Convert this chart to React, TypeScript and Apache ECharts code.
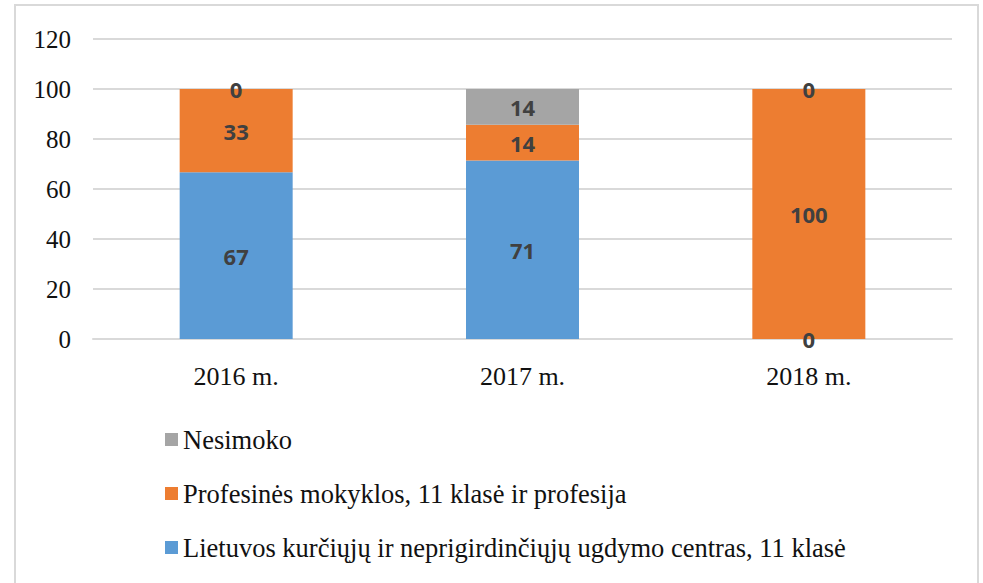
import React, { useEffect, useRef } from "react";
import * as echarts from "echarts";

const categories = ["2016 m.", "2017 m.", "2018 m."];
const seriesNames = [
  "Lietuvos kurčiųjų ir neprigirdinčiųjų ugdymo centras, 11 klasė",
  "Profesinės mokyklos, 11 klasė ir profesija",
  "Nesimoko",
];
const lietuvosValues = [66.7, 71.4, 0];
const profesinesValues = [33.3, 14.3, 100];
const nesimokoValues = [0, 14.3, 0];
const yTicks = { min: 0, max: 120, interval: 20 };

const colors = ["#5B9BD5", "#ED7D31", "#A5A5A5"];
const serif = "'Liberation Serif', 'Times New Roman', serif";

export default function App() {
  const ref = useRef<HTMLDivElement>(null);
  useEffect(() => {
    document.body.style.margin = "0";
    if (!ref.current) return;
    const chart = echarts.init(ref.current, null, { renderer: "svg" });
    const labelStyle = {
      show: true,
      position: "inside" as const,
      fontFamily: "'Open Sans', sans-serif",
      fontWeight: "bold" as const,
      fontSize: 22,
      color: "#404040",
      formatter: (p: any) => String(Math.round(p.value)),
    };
    const values = [lietuvosValues, profesinesValues, nesimokoValues];
    chart.setOption({
      animation: false,
      backgroundColor: "#ffffff",
      grid: { left: 93, right: 31, top: 39, bottom: 244 },
      graphic: [
        {
          type: "rect",
          shape: { x: 15, y: 5, width: 963, height: 620 },
          style: { fill: "none", stroke: "#d9d9d9", lineWidth: 2 },
          silent: true,
        },
      ],
      legend: {
        orient: "vertical",
        left: 160,
        top: 421,
        itemGap: 27,
        itemWidth: 13,
        itemHeight: 13,
        icon: "rect",
        data: [seriesNames[2], seriesNames[1], seriesNames[0]],
        textStyle: {
          fontFamily: serif,
          fontSize: 26.5,
          color: "#111111",
        },
      },
      xAxis: {
        type: "category",
        data: categories,
        axisLine: { show: true, lineStyle: { color: "#d9d9d9", width: 2 } },
        axisTick: { show: false },
        axisLabel: {
          margin: 24,
          fontFamily: serif,
          fontSize: 26,
          color: "#111111",
        },
      },
      yAxis: {
        type: "value",
        min: yTicks.min,
        max: yTicks.max,
        interval: yTicks.interval,
        axisLine: { show: false },
        axisTick: { show: false },
        splitLine: { lineStyle: { color: "#d9d9d9", width: 2 } },
        axisLabel: {
          margin: 22,
          fontFamily: serif,
          fontSize: 25,
          color: "#111111",
        },
      },
      series: seriesNames.map((name, i) => ({
        name,
        type: "bar",
        stack: "total",
        barWidth: 113,
        data: values[i],
        itemStyle: { color: colors[i] },
        label: labelStyle,
      })),
    });
    return () => chart.dispose();
  }, []);
  return <div ref={ref} style={{ width: 983, height: 583 }} />;
}
